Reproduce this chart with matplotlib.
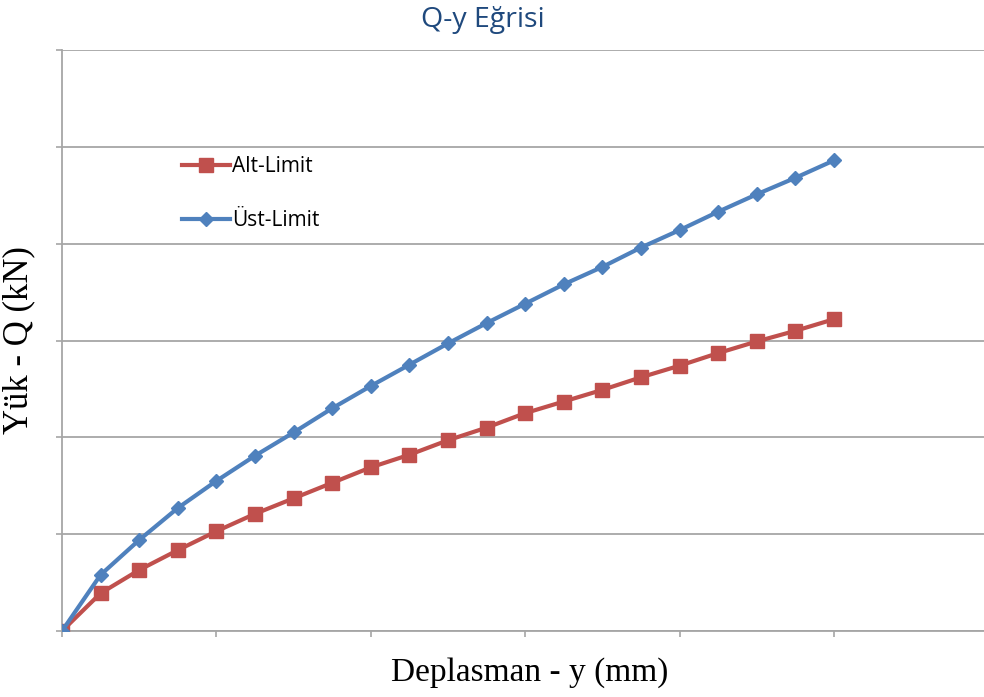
"""
Q-y Eğrisi: Alt-Limit / Üst-Limit yük-deplasman eğrileri
"""
import matplotlib
matplotlib.use("Agg")
import matplotlib.pyplot as plt

# ─── veriler ─────────────────────────────────────────────────────────────────
deplasman = [0, 0.25, 0.5, 0.75, 1.0, 1.25, 1.5, 1.75, 2.0, 2.25, 2.5,
             2.75, 3.0, 3.25, 3.5, 3.75, 4.0, 4.25, 4.5, 4.75, 5.0]
alt_limit = [0.0, 0.39, 0.63, 0.835, 1.03, 1.21, 1.37, 1.53, 1.69, 1.82, 1.97,
             2.10, 2.25, 2.37, 2.49, 2.62, 2.74, 2.87, 2.99, 3.10, 3.22]
ust_limit = [0.0, 0.58, 0.94, 1.27, 1.55, 1.81, 2.05, 2.30, 2.53, 2.75, 2.97,
             3.18, 3.38, 3.58, 3.76, 3.96, 4.14, 4.33, 4.51, 4.68, 4.86]
x_ticks = [0, 1, 2, 3, 4, 5]
y_ticks = [0, 1, 2, 3, 4, 5, 6]

RED  = "#C0504D"
BLUE = "#4F81BD"
GRID = "#A6A6A6"

W, H = 984, 697
fig = plt.figure(figsize=(W / 100, H / 100), dpi=100)
ax = fig.add_axes([62 / W, (H - 631) / H, (W - 62) / W, (631 - 50) / H])

ax.plot(deplasman, alt_limit, color=RED, lw=3, marker="s", ms=9.5,
        label="Alt-Limit", zorder=3)
ax.plot(deplasman, ust_limit, color=BLUE, lw=3, marker="D", ms=7.5,
        label="Üst-Limit", zorder=4)

ax.set_xlim(0, (W - 62) / 154.4)
ax.set_ylim(0, 6)
ax.set_xticks(x_ticks)
ax.set_yticks(y_ticks)
ax.set_xticklabels([])
ax.set_yticklabels([])
ax.tick_params(axis="both", direction="out", length=4, width=1.2, color=GRID)
ax.yaxis.grid(True, color=GRID, lw=1.3)
ax.set_axisbelow(True)

for s in ["top", "right"]:
    ax.spines[s].set_visible(False)
for s in ["left", "bottom"]:
    ax.spines[s].set_color(GRID)
    ax.spines[s].set_linewidth(1.3)

ax.set_xlabel("Deplasman - y (mm)", family="Liberation Serif", fontsize=24)
ax.xaxis.set_label_coords((530 - 62) / (W - 62), -0.045, transform=ax.transAxes)
ax.xaxis.label.set_va("top")
ax.set_ylabel("Yük - Q (kN)", family="Liberation Serif", fontsize=25,
              labelpad=12)

fig.text(483 / W, 1 - 20 / H, "Q-y Eğrisi", ha="center", va="center",
         family="Open Sans", fontsize=20.5, color="#1F497D")

leg = ax.legend(loc="upper left", bbox_to_anchor=(0.11, 0.85), frameon=False,
                prop={"family": "Open Sans", "size": 15},
                labelspacing=1.6, handlelength=2.3, handletextpad=0.1)

fig.savefig("out.png", dpi=100)
